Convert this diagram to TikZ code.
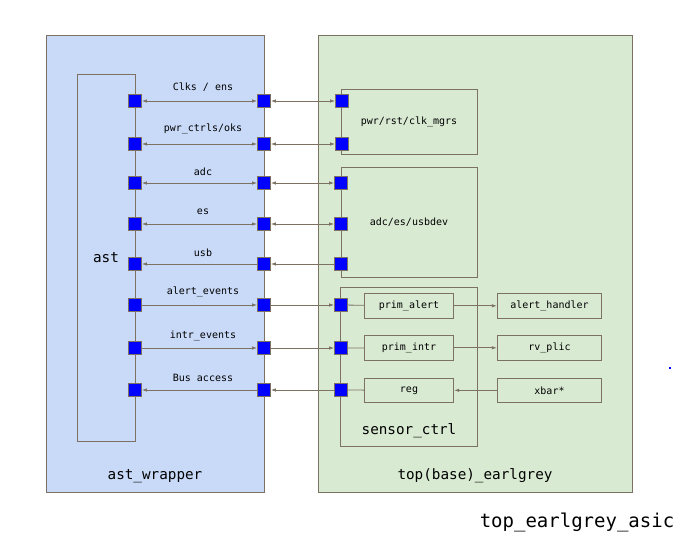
\documentclass[tikz,border=0pt]{standalone}
\usepackage{fontspec}
\setmainfont{DejaVu Sans Mono}
\usetikzlibrary{arrows.meta}
\definecolor{edgegray}{HTML}{7D7262}
\definecolor{astblue}{HTML}{C9DAF8}
\definecolor{topgreen}{HTML}{D9EAD3}
\definecolor{portblue}{HTML}{0000FF}
\tikzset{
  box/.style={draw=edgegray, line width=0.9pt, inner sep=0pt},
  port/.style={draw=edgegray, fill=portblue, line width=0.8pt, minimum size=13pt, inner sep=0pt},
  wire/.style={draw=edgegray, line width=0.8pt},
  both/.style={wire, {Latex[length=5pt,width=3.5pt]}-{Latex[length=5pt,width=3.5pt]}},
  fwd/.style={wire, -{Latex[length=5pt,width=3.5pt]}},
  back/.style={wire, {Latex[length=5pt,width=3.5pt]}-},
  small/.style={font=\fontsize{10}{12}\selectfont, inner sep=0pt},
  big/.style={font=\fontsize{14.3}{17}\selectfont, inner sep=0pt}
}

\begin{document}
\begin{tikzpicture}[x=1pt,y=-1pt]
    \useasboundingbox (0,0) rectangle (680,538);

    % outer blocks
    \node[box, fill=astblue, minimum width=218pt, minimum height=457pt] (wrap) at (155,263.5) {};
    \node[box, fill=topgreen, minimum width=314pt, minimum height=457pt] (top) at (475,263.5) {};
    \node[big] (wraptxt) at (155,476) {ast\_wrapper};
    \node[big] (toptxt) at (475,476) {top(base)\_earlgrey};
    \node[font=\fontsize{19}{22}\selectfont, inner sep=0pt] (asictxt) at (577,522) {top\_earlgrey\_asic};

    % ast and the blocks inside top
    \node[box, big, minimum width=58pt, minimum height=367pt] (ast) at (106,257.5) {ast};
    \node[box, small, minimum width=136pt, minimum height=65pt] (mgrs) at (409,121.7) {pwr/rst/clk\_mgrs};
    \node[box, small, minimum width=136pt, minimum height=110pt] (dev) at (409,222) {adc/es/usbdev};
    \node[box, minimum width=136.6pt, minimum height=158.7pt] (sctrl) at (409,366.6) {};
    \node[big] (sctrltxt) at (409,431) {sensor\_ctrl};

    \node[box, small, minimum width=89.4pt, minimum height=25pt] (palert) at (409,305.8) {prim\_alert};
    \node[box, small, minimum width=89.4pt, minimum height=25pt] (pintr) at (409,347.8) {prim\_intr};
    \node[box, small, minimum width=89.4pt, minimum height=24pt] (reg) at (409,390.3) {reg};
    \node[box, small, minimum width=104.4pt, minimum height=25pt] (ahandler) at (549.5,305.8) {alert\_handler};
    \node[box, small, minimum width=104.4pt, minimum height=25pt] (plic) at (549.5,347.8) {rv\_plic};
    \node[box, small, minimum width=104.4pt, minimum height=24pt] (xbar) at (549.5,390.3) {xbar*};

    % ports on ast
    \node[port] (a1) at (135,101) {};
    \node[port] (a2) at (135,144) {};
    \node[port] (a3) at (135,183) {};
    \node[port] (a4) at (135,224) {};
    \node[port] (a5) at (135,264) {};
    \node[port] (a6) at (135,305) {};
    \node[port] (a7) at (135,348) {};
    \node[port] (a8) at (135,390) {};

    % ports on ast_wrapper
    \node[port] (w1) at (264,101) {};
    \node[port] (w2) at (264,144) {};
    \node[port] (w3) at (264,183) {};
    \node[port] (w4) at (264,224) {};
    \node[port] (w5) at (264,264) {};
    \node[port] (w6) at (264,305) {};
    \node[port] (w7) at (264,348) {};
    \node[port] (w8) at (264,390) {};

    % ports on the top blocks
    \node[port] (t1) at (342,101) {};
    \node[port] (t2) at (342,144) {};
    \node[port] (t3) at (341,183) {};
    \node[port] (t4) at (341,224) {};
    \node[port] (t5) at (341,264) {};
    \node[port] (t6) at (341,305) {};
    \node[port] (t7) at (341,348) {};
    \node[port] (t8) at (341,390) {};

    % ast <-> ast_wrapper
    \draw[both] (a1) -- (w1);
    \draw[both] (a2) -- (w2);
    \draw[both] (a3) -- (w3);
    \draw[both] (a4) -- (w4);
    \draw[back] (a5) -- (w5);
    \draw[fwd] (a6) -- (w6);
    \draw[fwd] (a7) -- (w7);
    \draw[back] (a8) -- (w8);

    \node[small] (l1) at (203,87) {Clks / ens};
    \node[small] (l2) at (203,129) {pwr\_ctrls/oks};
    \node[small] (l3) at (203,172) {adc};
    \node[small] (l4) at (203,212) {es};
    \node[small] (l5) at (203,253) {usb};
    \node[small] (l6) at (203,292) {alert\_events};
    \node[small] (l7) at (203,336) {intr\_events};
    \node[small] (l8) at (203,378) {Bus access};

    % ast_wrapper <-> top
    \draw[both] (w1) -- (t1);
    \draw[both] (w2) -- (t2);
    \draw[both] (w3) -- (t3);
    \draw[both] (w4) -- (t4);
    \draw[back] (w5) -- (t5);
    \draw[fwd] (w6) -- (t6);
    \draw[fwd] (w7) -- (t7);
    \draw[back] (w8) -- (t8);

    % inside sensor_ctrl
    \draw[wire] (t6) -- (palert);
    \draw[wire] (t7) -- (pintr);
    \draw[wire] (t8) -- (reg);
    \draw[fwd] (palert) -- (ahandler);
    \draw[fwd] (pintr) -- (plic);
    \draw[back] (reg) -- (xbar);

    \fill[portblue] (669.3,367.3) rectangle (670.8,368.8);
  \end{tikzpicture}
\end{document}
